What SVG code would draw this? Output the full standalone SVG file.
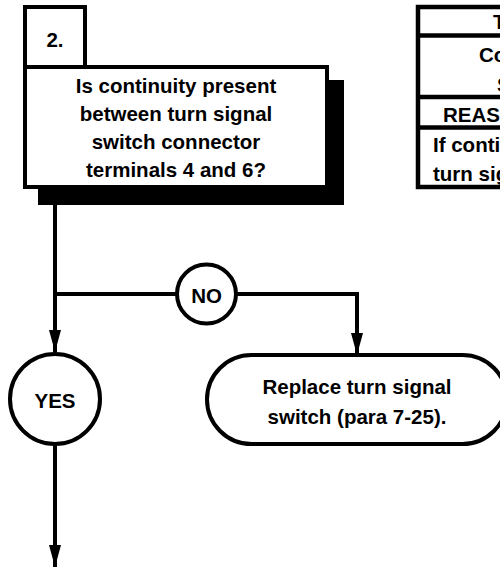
<svg xmlns="http://www.w3.org/2000/svg" width="500" height="567" viewBox="0 0 500 567">
<defs>
<style>
text{font-family:"Liberation Sans",Arial,Helvetica,sans-serif;font-weight:bold;font-size:20.5px;fill:#000}
.c{text-anchor:middle}
.b{fill:#fff;stroke:#000;stroke-width:4}
.t{fill:#fff;stroke:#000;stroke-width:4.5}
.l{fill:none;stroke:#000;stroke-width:4}
</style>
<marker id="ah" markerUnits="userSpaceOnUse" markerWidth="12" markerHeight="22" refX="12" refY="6" orient="auto" viewBox="0 0 12 22">
<path d="M0,0 L12,6 L0,12 Z" fill="#000"/>
</marker>
<marker id="arr" markerUnits="userSpaceOnUse" markerWidth="22" markerHeight="12" refX="22" refY="6" orient="auto" viewBox="0 0 22 12">
<path d="M0,0 L22,6 L0,12 Z" fill="#000"/>
</marker>
</defs>
<rect width="500" height="567" fill="#fff"/>
<g id="connectors">
<line class="l" x1="55" y1="204" x2="55" y2="352" marker-end="url(#arr)"/>
<line class="l" x1="55" y1="294" x2="177" y2="294"/>
<polyline class="l" points="236,294 357,294 357,355" marker-end="url(#arr)"/>
<line class="l" x1="55" y1="444" x2="55" y2="567" marker-end="url(#arr)"/>
</g>
<g id="step2">
<rect x="38" y="80" width="306" height="125" fill="#000"/>
<rect class="b" x="25" y="7" width="60" height="60"/>
<text class="c" x="55" y="47">2.</text>
<rect class="b" x="25" y="67" width="302" height="120"/>
<text class="c" x="176" y="92.5">Is continuity present</text>
<text class="c" x="176" y="120.5">between turn signal</text>
<text class="c" x="176" y="148.5">switch connector</text>
<text class="c" x="176" y="177">terminals 4 and 6?</text>
</g>
<g id="table">
<rect class="t" x="418" y="7" width="200" height="180"/>
<line class="t" x1="418" y1="35.5" x2="500" y2="35.5"/>
<line class="t" x1="418" y1="97" x2="500" y2="97"/>
<line class="t" x1="418" y1="127.5" x2="500" y2="127.5"/>
<text x="493" y="28.5">T</text>
<text x="479" y="62">Co</text>
<text x="497" y="92">S</text>
<text x="443" y="122">REAS</text>
<text x="433" y="152">If conti</text>
<text x="433" y="181">turn sig</text>
</g>
<g id="no">
<circle class="b" cx="206.5" cy="294" r="29.5"/>
<text class="c" x="206.5" y="303">NO</text>
</g>
<g id="yes">
<circle class="b" cx="55" cy="399" r="45"/>
<text class="c" x="55" y="408">YES</text>
</g>
<g id="replace">
<rect class="b" x="207" y="355" width="300" height="89" rx="44.5" ry="44.5"/>
<text class="c" x="357" y="394">Replace turn signal</text>
<text class="c" x="357" y="423.5">switch (para 7-25).</text>
</g>
</svg>
